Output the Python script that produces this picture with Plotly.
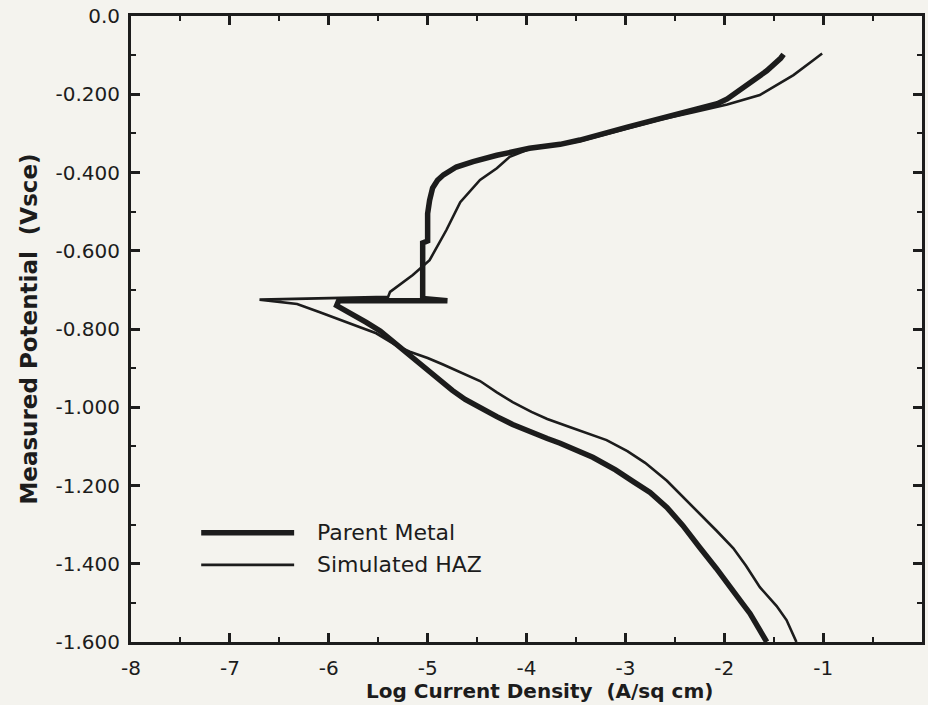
import plotly.graph_objects as go

# Polarization scan, Parent Metal (cathodic branch upward, then anodic branch)
parent_logi = [-1.57, -1.66, -1.74, -1.83, -1.91, -2.08, -2.25, -2.42, -2.58, -2.75,
               -2.92, -3.10, -3.33, -3.50, -3.66, -3.79, -3.95, -4.14, -4.30, -4.47,
               -4.62, -4.75, -4.88, -5.01, -5.15, -5.31, -5.48, -5.62, -5.82, -5.92,
               -5.90, -4.80, -5.05, -5.05, -5.00, -5.00, -4.98, -4.95, -4.90, -4.84,
               -4.71, -4.54, -4.30, -3.97, -3.66, -3.46, -2.98, -2.65, -2.31, -2.07,
               -1.97, -1.77, -1.57, -1.43, -1.40]
parent_pot = [-1.600, -1.560, -1.527, -1.497, -1.468, -1.412, -1.358, -1.302, -1.256, -1.218,
              -1.190, -1.160, -1.128, -1.108, -1.092, -1.080, -1.064, -1.044, -1.024, -1.002,
              -0.980, -0.957, -0.930, -0.902, -0.871, -0.838, -0.805, -0.783, -0.752, -0.740,
              -0.728, -0.728, -0.722, -0.580, -0.575, -0.505, -0.471, -0.440, -0.420, -0.406,
              -0.386, -0.372, -0.356, -0.338, -0.328, -0.317, -0.284, -0.262, -0.242, -0.224,
              -0.212, -0.178, -0.140, -0.108, -0.098]

# Polarization scan, Simulated HAZ
haz_logi = [-1.27, -1.37, -1.47, -1.64, -1.78, -1.91, -2.08, -2.25, -2.42, -2.58,
            -2.80, -2.98, -3.19, -3.36, -3.55, -3.79, -3.95, -4.14, -4.30, -4.47,
            -4.65, -4.85, -5.00, -5.18, -5.31, -5.52, -5.69, -5.92, -6.09, -6.32,
            -6.70, -5.40, -5.38, -5.15, -4.98, -4.81, -4.67, -4.47, -4.30, -4.17,
            -3.97, -3.46, -2.98, -2.65, -2.31, -1.97, -1.64, -1.30, -1.10, -1.01]
haz_pot = [-1.600, -1.544, -1.508, -1.460, -1.405, -1.360, -1.315, -1.272, -1.228, -1.188,
           -1.142, -1.112, -1.084, -1.068, -1.052, -1.030, -1.012, -0.987, -0.962, -0.933,
           -0.912, -0.890, -0.874, -0.858, -0.843, -0.811, -0.795, -0.772, -0.757, -0.736,
           -0.725, -0.718, -0.705, -0.662, -0.624, -0.547, -0.476, -0.419, -0.389, -0.360,
           -0.340, -0.320, -0.287, -0.265, -0.246, -0.226, -0.202, -0.151, -0.113, -0.096]

series_names = ["Parent Metal", "Simulated HAZ"]

x_ticks = [-8, -7, -6, -5, -4, -3, -2, -1, 0]
x_ticklabels = ["-8", "-7", "-6", "-5", "-4", "-3", "-2", "-1", "0"]
x_minor = [-7.5, -6.5, -5.5, -4.5, -3.5, -2.5, -1.5, -0.5]
y_ticks = [0.0, -0.2, -0.4, -0.6, -0.8, -1.0, -1.2, -1.4, -1.6]
y_ticklabels = ["0.0", "-0.200", "-0.400", "-0.600", "-0.800", "-1.000", "-1.200", "-1.400", "-1.600"]
y_minor = [-0.1, -0.3, -0.5, -0.7, -0.9, -1.1, -1.3, -1.5]

x_title = "Log Current Density  (A/sq cm)"
y_title = "Measured Potential  (Vsce)"

INK = "#1c1c1c"
BG = "#f4f3ee"
FONT = "DejaVu Sans"
THICK, THIN = 5.5, 2.6

fig = go.Figure()
fig.add_trace(go.Scatter(x=parent_logi, y=parent_pot, mode="lines", name=series_names[0],
                         line=dict(color=INK, width=THICK), showlegend=False))
fig.add_trace(go.Scatter(x=haz_logi, y=haz_pot, mode="lines", name=series_names[1],
                         line=dict(color=INK, width=THIN), showlegend=False))

# Key: sample strokes with their labels, lower-left of the plot
key_x0, key_x1, key_text_x = -7.29, -6.35, -6.14
key_rows = [(-1.321, THICK), (-1.403, THIN)]
for (ky, w), label in zip(key_rows, series_names):
    fig.add_shape(type="line", xref="x", yref="y", x0=key_x0, x1=key_x1, y0=ky, y1=ky,
                  line=dict(color=INK, width=w))
    fig.add_annotation(x=key_text_x, y=ky, xref="x", yref="y", text=label, showarrow=False,
                       xanchor="left", yanchor="middle",
                       font=dict(family=FONT, size=22, color=INK))

# x-axis caption, set close under the tick labels
fig.add_annotation(x=0.517, y=-0.0775, xref="paper", yref="paper", text=x_title,
                   showarrow=False, xanchor="center", yanchor="middle",
                   font=dict(family=FONT, size=20, color=INK, weight="bold"))

axis_common = dict(
    showline=True, linewidth=3, linecolor=INK, mirror="ticks",
    ticks="inside", ticklen=9, tickwidth=2.5, tickcolor=INK,
    showgrid=False, zeroline=False,
    tickfont=dict(family=FONT, size=20, color=INK),
)

fig.update_xaxes(
    range=[-8, 0], tickvals=x_ticks, ticktext=x_ticklabels,
    minor=dict(tickvals=x_minor, ticks="inside", ticklen=5, tickwidth=2, tickcolor=INK),
    ticklabelstandoff=6,
    **axis_common,
)
fig.update_yaxes(
    range=[-1.6, 0], tickvals=y_ticks, ticktext=y_ticklabels,
    minor=dict(tickvals=y_minor, ticks="inside", ticklen=5, tickwidth=2, tickcolor=INK),
    title=dict(text=y_title, standoff=12,
               font=dict(family=FONT, size=23, color=INK, weight="bold")),
    ticklabelstandoff=4,
    **axis_common,
)

fig.update_layout(
    width=928, height=705,
    margin=dict(l=131, r=6, t=16, b=63, autoexpand=False),
    paper_bgcolor=BG, plot_bgcolor=BG,
    font=dict(family=FONT, color=INK),
    showlegend=False,
)

fig.write_html("out.html")
